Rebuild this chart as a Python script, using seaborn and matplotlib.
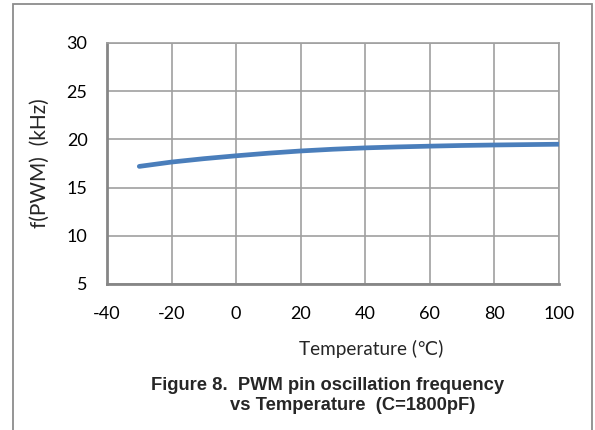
import numpy as np
import pandas as pd
import matplotlib
matplotlib.use("Agg")
import matplotlib.pyplot as plt
import seaborn as sns
from matplotlib.patches import Rectangle

# values
temperature = [-30, -20, -10, 0, 10, 20, 30, 40, 50, 60, 70, 80, 90, 100]
freq_khz = [17.2, 17.65, 18.0, 18.3, 18.57, 18.8, 18.98, 19.12, 19.22, 19.3, 19.37, 19.42, 19.46, 19.5]

x_ticks = [-40, -20, 0, 20, 40, 60, 80, 100]
y_ticks = [5, 10, 15, 20, 25, 30]

title_1 = "Figure 8.  PWM pin oscillation frequency"
title_2 = "vs Temperature  (C=1800pF)"

sns.set_style("white")
plt.rcParams["font.family"] = ["Lato", "DejaVu Sans"]
plt.rcParams["axes.unicode_minus"] = False

df = pd.DataFrame({"temp": temperature, "freq": freq_khz})

W, H = 595, 430
fig = plt.figure(figsize=(W / 100, H / 100), dpi=100)
ax = fig.add_axes([107 / W, 1 - 284 / H, 452 / W, 241 / H])

sns.lineplot(data=df, x="temp", y="freq", ax=ax, color="#4a7ebb",
             linewidth=3.4, solid_capstyle="round", zorder=3)

ax.set_xlim(-40, 100)
ax.set_ylim(5, 30)
ax.set_xticks(x_ticks)
ax.set_yticks(y_ticks)
ax.grid(True, color="#a0a0a0", linewidth=1.2)
ax.tick_params(length=0, labelsize=13, colors="black")
ax.tick_params(axis="y", pad=14)
ax.tick_params(axis="x", pad=16)

for side in ["top", "right"]:
    ax.spines[side].set_color("#a0a0a0")
    ax.spines[side].set_linewidth(1.2)
for side in ["left", "bottom"]:
    ax.spines[side].set_color("#868686")
    ax.spines[side].set_linewidth(2.0)

ax.set_xlabel("Temperature (\u2103)", fontsize=13.6)
ax.set_ylabel("f(PWM)  (kHz)", fontsize=15)
ax.xaxis.set_label_coords((371 - 107) / 452, -(340 - 284) / 241)
ax.yaxis.set_label_coords(-(107 - 50) / 452, (284 - 163) / 241)

bold = dict(ha="center", va="center", fontsize=13.2, fontweight="bold",
            family=["Liberation Sans", "DejaVu Sans"])
fig.text(328 / W, 1 - 386 / H, title_1, **bold)
fig.text(353 / W, 1 - 405 / H, title_2, **bold)

# outer chart frame, runs off the bottom edge
fig.patches.append(Rectangle((13 / W, -0.05), (592 - 13) / W, 1.05 - 4 / H,
                             transform=fig.transFigure, fill=False,
                             edgecolor="#8c8c8c", linewidth=1.3))

fig.savefig("out.png", dpi=100)
